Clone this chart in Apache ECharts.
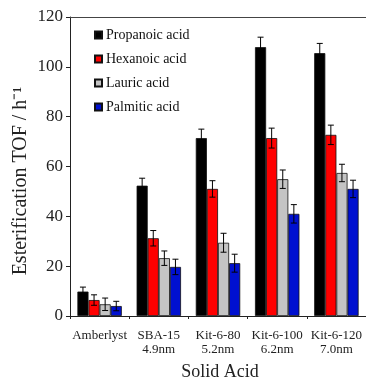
<!DOCTYPE html>
<html><head><meta charset="utf-8">
<script src="https://cdn.jsdelivr.net/npm/echarts@6/dist/echarts.min.js"></script>
<style>html,body{margin:0;padding:0;background:#fff}#c{width:366px;height:377px}</style>
</head><body><div id="c"></div>
<script>
const categories = ['Amberlyst', 'SBA-15\n4.9nm', 'Kit-6-80\n5.2nm', 'Kit-6-100\n6.2nm', 'Kit-6-120\n7.0nm'];
const seriesNames = ['Propanoic acid', 'Hexanoic acid', 'Lauric acid', 'Palmitic acid'];
const propanoic = [9.8, 52.3, 71.4, 107.9, 105.5];
const hexanoic = [6.4, 31.2, 51.0, 71.4, 72.7];
const lauric = [4.7, 23.2, 29.4, 54.9, 57.4];
const palmitic = [4.0, 19.7, 21.2, 41.0, 51.0];
const propanoicErr = [1.8, 3.0, 3.6, 4.0, 3.9];
const hexanoicErr = [2.1, 3.1, 3.3, 4.0, 3.9];
const lauricErr = [2.5, 2.9, 3.8, 3.7, 3.5];
const palmiticErr = [1.9, 3.1, 3.6, 3.7, 3.5];
const yTicks = [0, 20, 40, 60, 80, 100, 120];
const yTitle = 'Esterification TOF / h\u207B\u00B9';
const xTitle = 'Solid Acid';

const values = [propanoic, hexanoic, lauric, palmitic];
const errors = [propanoicErr, hexanoicErr, lauricErr, palmiticErr];
const colors = ['#000000', '#ff0000', '#c4c4c4', '#0010d0'];
const catGap = 0.25;
const font = '"Liberation Serif", "Times New Roman", serif';

const chart = echarts.init(document.getElementById('c'));
const series = [];
values.forEach((vals, k) => {
  series.push({
    name: seriesNames[k], type: 'bar', data: vals,
    barGap: 0, barCategoryGap: (catGap * 100) + '%',
    itemStyle: { color: colors[k], borderColor: '#111', borderWidth: 0.8 },
    z: 2
  });
});
values.forEach((vals, k) => {
  series.push({
    type: 'custom', name: 'err' + k, z: 5,
    data: vals.map((v, i) => [i, v, errors[k][i]]),
    encode: { x: 0, y: 1 },
    renderItem: function (params, api) {
      const i = api.value(0), v = api.value(1), e = api.value(2);
      const band = api.size([1, 0])[0];
      const bw = band * (1 - catGap) / 4;
      const off = (k - 1.5) * bw;
      const top = api.coord([i, v + e]);
      const bot = api.coord([i, v - e]);
      const x = top[0] + off;
      const cap = 3;
      const st = { stroke: '#000', lineWidth: 1 };
      return { type: 'group', children: [
        { type: 'line', shape: { x1: x, y1: top[1], x2: x, y2: bot[1] }, style: st },
        { type: 'line', shape: { x1: x - cap, y1: top[1], x2: x + cap, y2: top[1] }, style: st },
        { type: 'line', shape: { x1: x - cap, y1: bot[1], x2: x + cap, y2: bot[1] }, style: st }
      ]};
    }
  });
});

chart.setOption({
  animation: false,
  grid: { left: 70, right: 0, top: 17, bottom: 61 },
  legend: {
    data: seriesNames, orient: 'vertical', left: 89, top: 23,
    itemWidth: 7, itemHeight: 7, itemGap: 10, icon: 'rect',
    textStyle: { fontFamily: font, fontSize: 14, color: '#111', padding: [0, 0, 0, -1] },
    selectedMode: false
  },
  xAxis: [{
    type: 'category', data: categories,
    axisLine: { lineStyle: { color: '#222', width: 1 } },
    axisTick: { show: true, length: 3, lineStyle: { color: '#222' } },
    axisLabel: { fontFamily: font, fontSize: 13, color: '#222', margin: 13, lineHeight: 14, interval: 0 }
  }, {
    type: 'category', position: 'top', data: categories,
    axisLine: { show: true, lineStyle: { color: '#444', width: 1 } },
    axisTick: { show: false }, axisLabel: { show: false }
  }],
  yAxis: {
    type: 'value', min: yTicks[0], max: yTicks[yTicks.length - 1], interval: 20,
    axisLine: { show: true, lineStyle: { color: '#222', width: 1 } },
    axisTick: { show: true, length: 4, lineStyle: { color: '#222' } },
    axisLabel: { fontFamily: font, fontSize: 17, color: '#222', margin: 7 },
    splitLine: { show: false }
  },
  graphic: [{
    type: 'text', x: 21, y: 181, rotation: Math.PI / 2,
    style: { text: yTitle, fontFamily: font, fontSize: 20, fill: '#222', align: 'center', verticalAlign: 'middle' }
  }, {
    type: 'text', x: 220, y: 372,
    style: { text: xTitle, fontFamily: font, fontSize: 18, fill: '#222', align: 'center', verticalAlign: 'middle' }
  }],
  series: series
});
</script></body></html>
